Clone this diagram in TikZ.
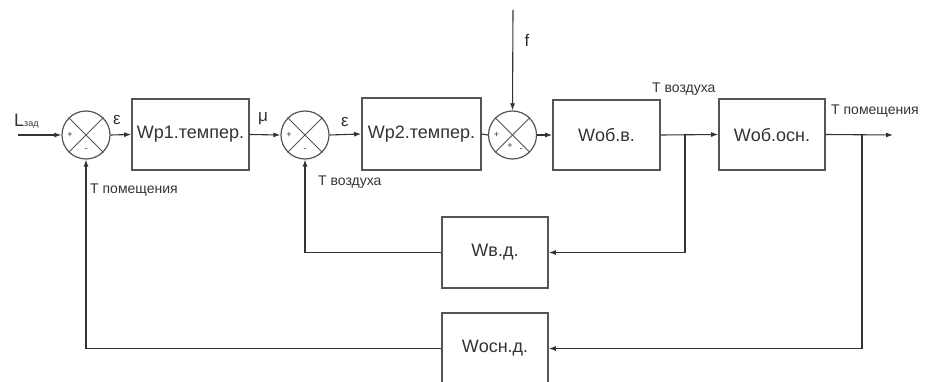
\documentclass[tikz,border=0pt]{standalone}
\usepackage{fontspec}
\setmainfont{Liberation Sans}
\usetikzlibrary{arrows.meta}
\definecolor{ln}{HTML}{333333}
\definecolor{bx}{HTML}{555555}
\begin{document}
\begin{tikzpicture}[x=1pt,y=-1pt,
  blk/.style={draw=bx,line width=1.6pt,minimum width=106pt,minimum height=71pt,inner sep=0pt,font=\fontsize{18}{18}\selectfont,text=ln},
  sum/.style={circle,draw=bx,line width=1.2pt,minimum size=48pt,inner sep=0pt},
  wire/.style={draw=ln,line width=1.1pt},
  arr/.style={wire,-{Latex[length=7pt,width=5pt]}},
  sg/.style={font=\fontsize{9}{9}\selectfont,text=ln,inner sep=0pt},
  lbl/.style={font=\fontsize{14}{14}\selectfont,text=ln,inner sep=0pt,anchor=west},
  gr/.style={font=\fontsize{17}{17}\selectfont,text=ln,inner sep=0pt}]
\useasboundingbox (0,0) rectangle (925,382);
% summing junctions
\node[sum] (s1) at (86,135) {};
\node[sum] (s2) at (305,135) {};
\node[sum] (s3) at (512.5,135) {};
\foreach \s in {s1,s2,s3}{
  \draw[bx,line width=1pt] (\s.north west) -- (\s.south east);
  \draw[bx,line width=1pt] (\s.north east) -- (\s.south west);}
\node[sg] (p1) at (70,135) {+};
\node[sg] (m1) at (86,150) {-};
\node[sg] (p2) at (289,135) {+};
\node[sg] (m2) at (305,150) {-};
\node[sg] (p3) at (496.5,135) {+};
\node[sg] (p3b) at (510,146) {+};
\node[sg] (m3) at (521,150) {-};
% blocks
\node[blk,minimum width=117pt] (b1) at (190.5,134.5) {Wр1.темпер.};
\node[blk,minimum width=119pt,minimum height=72pt] (b2) at (421.5,134) {Wр2.темпер.};
\node[blk,minimum width=107pt,minimum height=70pt] (b3) at (606.5,135) {Wоб.в.};
\node[blk] (b4) at (772,134.5) {Wоб.осн.};
\node[blk] (b5) at (495,252.5) {Wв.д.};
\node[blk] (b6) at (495,348.5) {Wосн.д.};
% coordinates
\coordinate (in) at (18,135);
\coordinate (out) at (893,135);
\coordinate (br1) at (685,135);
\coordinate (br2) at (862,135);
\coordinate (ftop) at (513,10);
% forward path
\draw[arr] (in) -- (s1.west);
\draw[arr] (s1.east) -- (b1.west);
\draw[arr] (b1.east) -- (s2.west);
\draw[arr] (s2.east) -- (b2.west);
\draw[wire] (b2.east) -- (s3.west);
\draw[arr] (s3.east) -- (b3.west);
\draw[arr] (b3.east) -- (b4.west);
\draw[arr] (b4.east) -- (out);
\draw[arr] (ftop) -- (s3.north);
% feedback
\draw[arr] (br1) |- (b5.east);
\draw[arr] (b5.west) -| (s2.south);
\draw[arr] (br2) |- (b6.east);
\draw[arr] (b6.west) -| (s1.south);
% labels
\node[inner sep=0pt,anchor=base west,text=ln] (L) at (14,127) {{\fontsize{18}{18}\selectfont L}{\fontsize{9}{9}\selectfont зад}};
\node[gr] (e1) at (117,120) {ε};
\node[gr] (mu) at (263,119) {μ};
\node[gr] (e2) at (345,122) {ε};
\node[gr] (f) at (527,40) {f};
\node[lbl] (t1) at (90,190) {T помещения};
\node[lbl] (t2) at (318,182) {T воздуха};
\node[lbl] (t3) at (652,89) {T воздуха};
\node[lbl] (t4) at (831,111) {T помещения};
\end{tikzpicture}
\end{document}
